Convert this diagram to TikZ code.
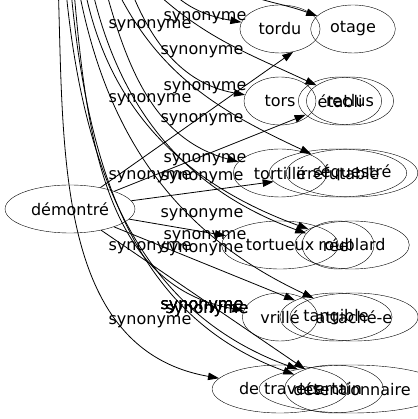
\documentclass[tikz,border=0pt]{standalone}
\usepackage{fontspec}
\setmainfont{DejaVu Sans}
\usetikzlibrary{shapes, arrows.meta, positioning}

\begin{document}
\begin{tikzpicture}[x=1pt, y=1pt,
        word/.style={draw, ellipse, inner xsep=7pt, inner ysep=2pt, minimum width=72pt, minimum height=48pt, font=\fontsize{16}{19}\selectfont},
        syn/.style={inner sep=0pt, font=\fontsize{16}{19}\selectfont},
        edge/.style={line width=0.8pt, -{Triangle[length=11pt, width=7.5pt]}}]
        \useasboundingbox (0,0) rectangle (417,419);

        \node[word] (Ndem) at (70, 210) {démontré};

        \node[word] (Ntordu) at (280, 390) {tordu};
        \node[word] (Notage) at (353, 390) {otage};
        \node[word] (Ntors) at (280, 318) {tors};
        \node[word] (Netabli) at (340, 318) {établi};
        \node[word] (Nreclus) at (350, 318) {reclus};
        \node[word] (Ntortille) at (280, 246) {tortillé};
        \node[word] (Nirrefutable) at (338, 246) {irréfutable};
        \node[word] (Nsequestre) at (352, 246) {séquestré};
        \node[word] (Ntortueux) at (280, 174) {tortueux};
        \node[word] (Nreel) at (338, 174) {réel};
        \node[word] (Nroublard) at (352, 174) {roublard};
        \node[word] (Nvrille) at (280, 102) {vrillé};
        \node[word] (Ntangible) at (336, 102) {tangible};
        \node[word] (Nattache) at (354, 102) {attaché-e};
        \node[word] (Ntravers) at (280, 30) {de travers};
        \node[word] (Ncertain) at (334, 30) {certain};
        \node[word] (Ndetention) at (352, 30) {détentionnaire};

        % free ends above the frame
        \coordinate (T1) at (58, 439);
        \coordinate (T2) at (65, 439);
        \coordinate (T3) at (70, 439);
        \coordinate (T4) at (73, 439);
        \coordinate (T5) at (77, 439);
        \coordinate (T6) at (83, 439);
        \coordinate (T7) at (90, 439);
        \coordinate (T8) at (103, 439);
        \coordinate (T9) at (112, 439);
        \coordinate (T10) at (127, 439);
        \coordinate (T11) at (143, 439);
        \coordinate (T12) at (160, 439);
        \coordinate (T13) at (215, 439);

        \draw [edge] (T1) to [out=-88, in=170] (Ntravers);
        \draw [edge] (T2) to [out=-85, in=160] (Ndetention);
        \draw [edge] (T3) to [out=-85, in=160] (Ncertain);
        \draw [edge] (T4) to [out=-85, in=170] (Nvrille);
        \draw [edge] (T5) to [out=-80, in=155] (Nattache);
        \draw [edge] (T6) to [out=-80, in=160] (Nroublard);
        \draw [edge] (T7) to [out=-78, in=160] (Nreel);
        \draw [edge] (T8) to [out=-75, in=165] (Ntortille);
        \draw [edge] (T9) to [out=-65, in=155] (Nsequestre);
        \draw [edge] (T10) to [out=-70, in=170] (Ntors);
        \draw [edge] (T11) to [out=-45, in=155] (Nreclus);
        \draw [edge] (T12) to [out=-50, in=170] (Ntordu);
        \draw [edge] (T13) to [out=-30, in=160] (Notage);

        \draw [edge] (Ndem) -- (Ntordu.-60);
        \draw [edge] (Ndem) -- (Netabli);
        \draw [edge] (Ndem) -- (Nirrefutable);
        \draw [edge] (Ndem) -- (Ntortueux);
        \draw [edge] (Ndem) -- (Ntangible);
        \draw [edge] (Ndem) -- (Ncertain);

        \node[syn] (S1) at (205, 401) {synonyme};
        \node[syn] (S2) at (150, 393) {synonyme};
        \node[syn] (S3) at (202, 367) {synonyme};
        \node[syn] (S4) at (205, 331) {synonyme};
        \node[syn] (S5) at (150, 319) {synonyme};
        \node[syn] (S6) at (202, 299) {synonyme};
        \node[syn] (S7) at (205, 259) {synonyme};
        \node[syn] (S8) at (150, 242) {synonyme};
        \node[syn] (S9) at (202, 241) {synonyme};
        \node[syn] (S10) at (202, 204) {synonyme};
        \node[syn] (S11) at (205, 182) {synonyme};
        \node[syn] (S12) at (150, 171) {synonyme};
        \node[syn] (S13) at (202, 169) {synonyme};
        \node[syn] (S14) at (202, 112) {synonyme};
        \node[syn] (S15) at (207, 108) {synonyme};
        \node[syn] (S16) at (202, 112) {synonyme};
        \node[syn] (S17) at (150, 97) {synonyme};
        \node[syn] (S18) at (207, 108) {synonyme};
        \node[syn] (S19) at (202, 112) {synonyme};

    \end{tikzpicture}
\end{document}
